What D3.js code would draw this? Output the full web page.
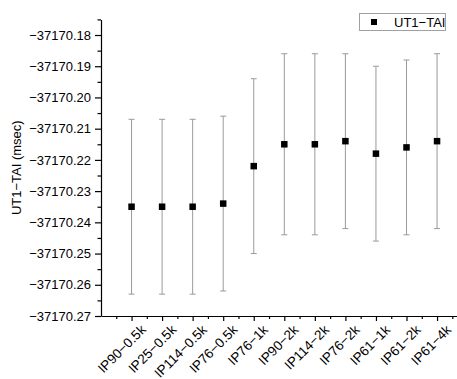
<!DOCTYPE html>
<html>
<head>
<meta charset="utf-8">
<script src="https://cdn.jsdelivr.net/npm/d3@7"></script>
<style>
  body { margin: 0; background: #fff; }
  text { font-family: "Liberation Sans", Arial, sans-serif; fill: #000; }
</style>
</head>
<body>
<div id="chart"></div>
<script>
var svgWidth = 457;
var svgHeight = 379;

// data
var categories = ["IP90\u22120.5k", "IP25\u22120.5k", "IP114\u22120.5k", "IP76\u22120.5k", "IP76\u22121k",
  "IP90\u22122k", "IP114\u22122k", "IP76\u22122k", "IP61\u22121k", "IP61\u22122k", "IP61\u22124k"];
var values = [-37170.235, -37170.235, -37170.235, -37170.234, -37170.222,
  -37170.215, -37170.215, -37170.214, -37170.218, -37170.216, -37170.214];
var errors = [0.028, 0.028, 0.028, 0.028, 0.028, 0.029, 0.029, 0.028, 0.028, 0.028, 0.028];
var yTicks = [-37170.18, -37170.19, -37170.20, -37170.21, -37170.22,
  -37170.23, -37170.24, -37170.25, -37170.26, -37170.27];
var seriesName = "UT1\u2212TAI";
var yTitle = "UT1\u2212TAI (msec)";

var margin = { top: 19.4, left: 101, bottom: 63 };
var step = 30.55;
var x0 = margin.left;
var yBottom = svgHeight - margin.bottom;

var svg = d3.select("#chart")
  .append("svg")
  .attr("width", svgWidth)
  .attr("height", svgHeight);

// scales
var xScale = d3.scaleLinear()
  .domain([0, categories.length + 1])
  .range([x0, x0 + step * (categories.length + 1)]);

var yScale = d3.scaleLinear()
  .domain([-37170.27, -37170.175])
  .range([yBottom, margin.top]);

var fmt = d3.format(".2f");

// y axis (major + minor)
var yMinor = yTicks.map(d => d + 0.005);
svg.append("g")
  .attr("transform", `translate(${x0},0)`)
  .call(d3.axisLeft(yScale).tickValues(yMinor).tickSize(3.5).tickFormat(""))
  .call(g => g.select(".domain").remove())
  .selectAll("line").attr("stroke", "#000").attr("stroke-width", 1.2);

var yAxis = svg.append("g")
  .attr("transform", `translate(${x0},0)`)
  .call(d3.axisLeft(yScale).tickValues(yTicks).tickSize(6).tickSizeOuter(0).tickPadding(4).tickFormat(fmt));
yAxis.select(".domain").attr("stroke-width", 1.2);
yAxis.selectAll("line").attr("stroke-width", 1.2);
yAxis.selectAll("text").style("font-size", "13px");

// x axis (major + minor)
var xMinor = d3.range(categories.length + 1).map(i => i + 0.5);
svg.append("g")
  .attr("transform", `translate(0,${yBottom})`)
  .call(d3.axisBottom(xScale).tickValues(xMinor).tickSize(3).tickFormat(""))
  .call(g => g.select(".domain").remove())
  .selectAll("line").attr("stroke", "#000").attr("stroke-width", 1.2);

var xAxis = svg.append("g")
  .attr("transform", `translate(0,${yBottom})`)
  .call(d3.axisBottom(xScale)
    .tickValues(d3.range(1, categories.length + 1))
    .tickSize(5).tickSizeOuter(0)
    .tickFormat(d => categories[d - 1]));
xAxis.select(".domain").attr("stroke-width", 1.2);
xAxis.selectAll("line").attr("stroke-width", 1.2);
xAxis.selectAll("text")
  .style("font-size", "13.5px")
  .attr("text-anchor", "end")
  .attr("transform", "translate(5,5) rotate(-45)")
  .attr("dy", "0.71em")
  .attr("y", 4);

// error bars
var bars = svg.append("g").attr("stroke", "#9a9a9a").attr("stroke-width", 1);
categories.forEach(function(c, i) {
  var cx = xScale(i + 1);
  var hi = yScale(values[i] + errors[i]);
  var lo = yScale(values[i] - errors[i]);
  bars.append("line").attr("x1", cx).attr("x2", cx).attr("y1", hi).attr("y2", lo);
  bars.append("line").attr("x1", cx - 3).attr("x2", cx + 3).attr("y1", hi).attr("y2", hi);
  bars.append("line").attr("x1", cx - 3).attr("x2", cx + 3).attr("y1", lo).attr("y2", lo);
});

// points
svg.append("g").selectAll("rect")
  .data(values)
  .enter()
  .append("rect")
  .attr("x", (d, i) => xScale(i + 1) - 3.25)
  .attr("y", d => yScale(d) - 3.25)
  .attr("width", 6.5)
  .attr("height", 6.5)
  .attr("fill", "#000");

// y title
svg.append("text")
  .attr("transform", `translate(21,${(yBottom + margin.top) / 2}) rotate(-90)`)
  .attr("text-anchor", "middle")
  .style("font-size", "13px")
  .text(yTitle);

// legend
var legend = svg.append("g");
legend.append("rect")
  .attr("x", 359.5).attr("y", 13.5)
  .attr("width", 86).attr("height", 17)
  .attr("fill", "#fff").attr("stroke", "#a0a0a0");
legend.append("rect")
  .attr("x", 371).attr("y", 19)
  .attr("width", 6).attr("height", 6)
  .attr("fill", "#000");
legend.append("text")
  .attr("x", 394).attr("y", 26.5)
  .style("font-size", "13px")
  .text(seriesName);
</script>
</body>
</html>
